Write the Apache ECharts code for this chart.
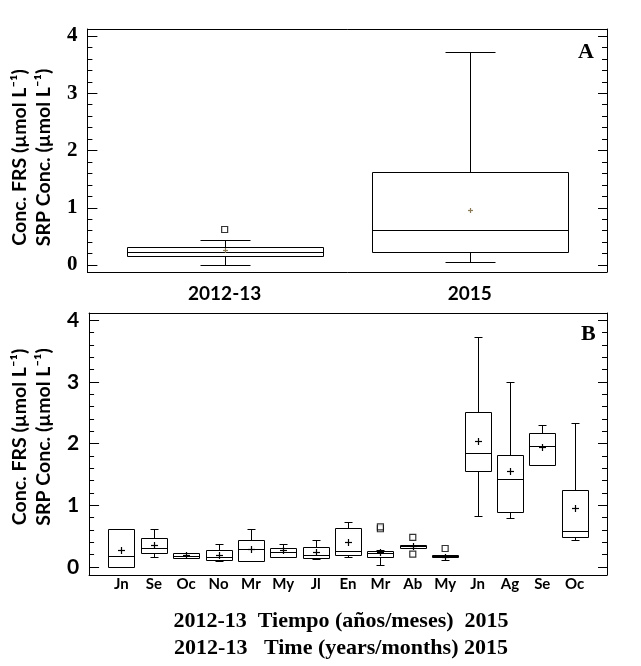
<!DOCTYPE html>
<html>
<head>
<meta charset="utf-8">
<script src="https://cdn.jsdelivr.net/npm/echarts@6/dist/echarts.min.js"></script>
<style>
  html, body { margin: 0; padding: 0; background: #fff; }
  #main { width: 641px; height: 666px; }
</style>
</head>
<body>
<div id="main"></div>
<script>
// ---- data ----
var periodsA = ['2012-13', '2015'];
// [min, q1, median, q3, max]
var boxA = [
  [0.00, 0.15, 0.22, 0.31, 0.44],
  [0.05, 0.22, 0.61, 1.63, 3.72]
];
var meanA = [0.26, 0.96];
var outliersA = [[0, 0.62]];

var months = ['Jn', 'Se', 'Oc', 'No', 'Mr', 'My', 'Jl', 'En', 'Mr', 'Ab', 'My', 'Jn', 'Ag', 'Se', 'Oc'];
var boxB = [
  [0.00, 0.00, 0.18, 0.61, 0.61],
  [0.16, 0.22, 0.31, 0.47, 0.62],
  [0.15, 0.15, 0.18, 0.23, 0.24],
  [0.09, 0.12, 0.17, 0.28, 0.37],
  [0.09, 0.09, 0.29, 0.44, 0.62],
  [0.17, 0.17, 0.25, 0.31, 0.37],
  [0.13, 0.15, 0.20, 0.33, 0.44],
  [0.17, 0.20, 0.26, 0.63, 0.73],
  [0.03, 0.16, 0.22, 0.26, 0.28],
  [0.31, 0.31, 0.34, 0.36, 0.36],
  [0.11, 0.16, 0.18, 0.20, 0.20],
  [0.83, 1.56, 1.85, 2.51, 3.73],
  [0.79, 0.90, 1.42, 1.82, 3.00],
  [1.65, 1.65, 1.96, 2.17, 2.30],
  [0.44, 0.49, 0.58, 1.25, 2.34]
];
var meanB = [0.27, 0.35, 0.19, 0.20, 0.29, 0.27, 0.24, 0.40, 0.24, 0.34, 0.17, 2.05, 1.56, 1.95, 0.95];
var outliersB = [[8, 0.62], [8, 0.65], [9, 0.48], [9, 0.21], [10, 0.30]];

var yTitle = 'Conc. FRS (µmol L⁻¹)\nSRP Conc. (µmol L⁻¹)';
var xTitleB = '2012-13  Tiempo (años/meses)  2015\n2012-13   Time (years/months) 2015';

// ---- helpers ----
function toItems(boxes, means) {
  return boxes.map(function (b, i) { return [i].concat(b).concat([means[i]]); });
}

function px(v) { return Math.round(v) + 0.5; }

function boxRender(frac, capFrac, meanColor, plus) {
  return function (params, api) {
    var x = api.value(0);
    var lo = api.coord([x, api.value(1)]);
    var q1 = api.coord([x, api.value(2)]);
    var md = api.coord([x, api.value(3)]);
    var q3 = api.coord([x, api.value(4)]);
    var hi = api.coord([x, api.value(5)]);
    var mn = api.coord([x, api.value(6)]);
    var w = api.size([frac, 0])[0];
    var cx = px(lo[0]);
    var hw = Math.round(w / 2), cw = Math.round(w * capFrac / 2);
    var ln = { stroke: '#000', lineWidth: 1 };
    var kids = [
      { type: 'rect', shape: { x: cx - hw, y: px(q3[1]), width: hw * 2, height: px(q1[1]) - px(q3[1]) },
        style: { fill: 'none', stroke: '#000', lineWidth: 1 } },
      { type: 'line', shape: { x1: cx - hw, y1: px(md[1]), x2: cx + hw, y2: px(md[1]) }, style: ln }
    ];
    if (Math.abs(hi[1] - q3[1]) > 1) {
      kids.push({ type: 'line', shape: { x1: cx, y1: px(q3[1]), x2: cx, y2: px(hi[1]) }, style: ln });
      kids.push({ type: 'line', shape: { x1: cx - cw, y1: px(hi[1]), x2: cx + cw, y2: px(hi[1]) }, style: ln });
    }
    if (Math.abs(lo[1] - q1[1]) > 1) {
      kids.push({ type: 'line', shape: { x1: cx, y1: px(q1[1]), x2: cx, y2: px(lo[1]) }, style: ln });
      kids.push({ type: 'line', shape: { x1: cx - cw, y1: px(lo[1]), x2: cx + cw, y2: px(lo[1]) }, style: ln });
    }
    var my = px(mn[1]);
    kids.push({ type: 'line', shape: { x1: cx - plus, y1: my, x2: cx + plus, y2: my }, style: { stroke: meanColor, lineWidth: 1.2 } });
    kids.push({ type: 'line', shape: { x1: cx, y1: my - plus, x2: cx, y2: my + plus }, style: { stroke: meanColor, lineWidth: 1.2 } });
    return { type: 'group', children: kids };
  };
}

var axLine = { show: true, onZero: false, lineStyle: { color: '#000', width: 1 } };

function yAxes(grid, min, max, labelFont) {
  var common = { type: 'value', gridIndex: grid, min: min, max: max, splitLine: { show: false } };
  return [
    Object.assign({}, common, {
      position: 'left', splitNumber: 4, axisLine: axLine,
      axisTick: { inside: true, length: 10, lineStyle: { color: '#000' } },
      axisLabel: {
        margin: 10, color: '#000', fontSize: 21, fontWeight: 'bold', fontFamily: labelFont,
        formatter: function (v) { return Math.abs(v - Math.round(v)) < 1e-6 ? String(Math.round(v)) : ''; }
      },
      name: yTitle, nameLocation: 'middle', nameGap: grid === 0 ? 30 : 28, nameRotate: 90,
      nameTextStyle: {
        color: '#000', fontSize: 19.5, fontWeight: 'bold', fontFamily: 'Lato', lineHeight: 24,
        padding: grid === 0 ? [0, 14, 0, 0] : [0, 0, 0, 14]
      }
    }),
    Object.assign({}, common, {
      position: 'left', splitNumber: 20, axisLine: { show: false, onZero: false },
      axisTick: { inside: true, length: 5, lineStyle: { color: '#000' } }, axisLabel: { show: false }
    }),
    Object.assign({}, common, {
      position: 'right', splitNumber: 4, axisLine: axLine,
      axisTick: { inside: true, length: 9, lineStyle: { color: '#000' } }, axisLabel: { show: false }
    }),
    Object.assign({}, common, {
      position: 'right', splitNumber: 20, axisLine: { show: false, onZero: false },
      axisTick: { inside: true, length: 5, lineStyle: { color: '#000' } }, axisLabel: { show: false }
    })
  ];
}

var chart = echarts.init(document.getElementById('main'), null, { renderer: 'canvas' });

chart.setOption({
  backgroundColor: '#fff',
  animation: false,
  title: [
    { text: 'A', left: 573, top: 36, textStyle: { fontFamily: 'Liberation Serif', fontWeight: 'bold', fontSize: 22, color: '#000' } },
    { text: 'B', left: 576, top: 318, textStyle: { fontFamily: 'Liberation Serif', fontWeight: 'bold', fontSize: 22, color: '#000' } }
  ],
  grid: [
    { left: 86, right: 34, top: 29, height: 243 },
    { left: 87, right: 34, top: 313, height: 262 }
  ],
  xAxis: [
    {
      type: 'value', gridIndex: 0, position: 'bottom', min: -0.56, max: 1.56, splitNumber: 2,
      axisLine: axLine, axisTick: { show: false }, splitLine: { show: false },
      axisLabel: {
        margin: 12, color: '#000', fontSize: 19, fontWeight: 'bold', fontFamily: 'Lato',
        formatter: function (v) { var i = Math.round(v); return Math.abs(v - i) < 1e-6 && periodsA[i] ? periodsA[i] : ''; }
      }
    },
    {
      type: 'value', gridIndex: 0, position: 'top', min: -0.56, max: 1.56, splitNumber: 2,
      axisLine: axLine, axisTick: { show: false }, axisLabel: { show: false }, splitLine: { show: false }
    },
    {
      type: 'value', gridIndex: 1, position: 'bottom', min: -1, max: 15, interval: 1,
      axisLine: axLine, axisTick: { show: false }, splitLine: { show: false },
      axisLabel: {
        margin: 2, color: '#000', fontSize: 15, fontWeight: 'bold', fontFamily: 'Lato',
        formatter: function (v) { var i = Math.round(v); return months[i] || ''; }
      },
      name: xTitleB, nameLocation: 'middle', nameGap: 33,
      nameTextStyle: { color: '#000', fontSize: 22, fontWeight: 'bold', fontFamily: 'Liberation Serif', lineHeight: 27, padding: [0, 14, 0, 0] }
    },
    {
      type: 'value', gridIndex: 1, position: 'top', min: -1, max: 15, interval: 1,
      axisLine: axLine, axisTick: { show: false }, axisLabel: { show: false }, splitLine: { show: false }
    }
  ],
  yAxis: yAxes(0, -0.122, 4.122, 'Liberation Serif').concat(yAxes(1, -0.13, 4.12, 'Lato')),
  series: [
    {
      type: 'custom', xAxisIndex: 0, yAxisIndex: 0,
      renderItem: boxRender(0.8, 0.25, '#8a7a55', 2.5),
      encode: { x: 0, y: [1, 2, 3, 4, 5] },
      data: toItems(boxA, meanA)
    },
    {
      type: 'scatter', xAxisIndex: 0, yAxisIndex: 0, symbol: 'rect', symbolSize: 6,
      itemStyle: { color: '#fff', borderColor: '#000', borderWidth: 1.2 },
      data: outliersA
    },
    {
      type: 'custom', xAxisIndex: 2, yAxisIndex: 4,
      renderItem: boxRender(0.82, 0.28, '#000', 3.5),
      encode: { x: 0, y: [1, 2, 3, 4, 5] },
      data: toItems(boxB, meanB)
    },
    {
      type: 'scatter', xAxisIndex: 2, yAxisIndex: 4, symbol: 'rect', symbolSize: 6,
      itemStyle: { color: '#fff', borderColor: '#000', borderWidth: 1.2 },
      data: outliersB
    }
  ]
});
</script>
</body>
</html>
